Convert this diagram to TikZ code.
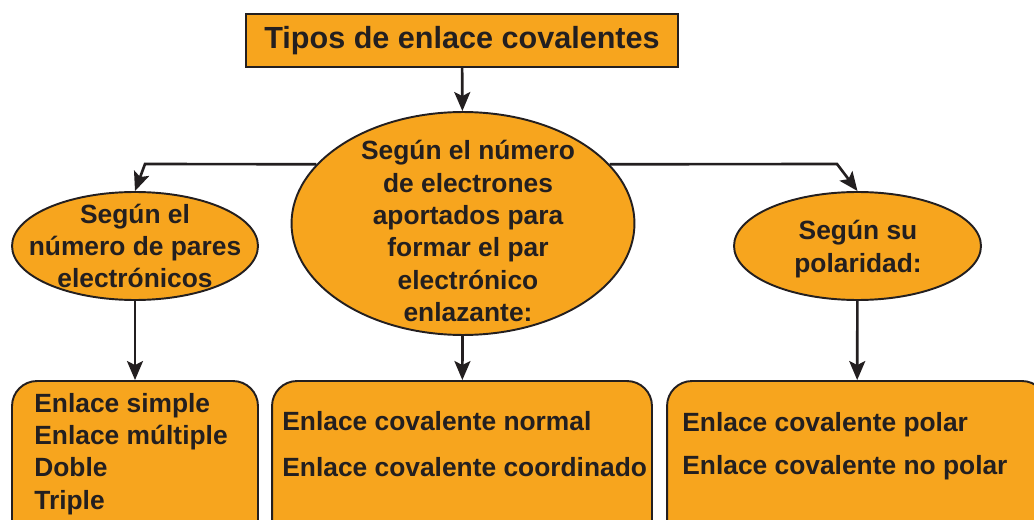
\documentclass[tikz,border=0pt]{standalone}
\usepackage{fontspec}
\setmainfont{Liberation Sans}
\usetikzlibrary{shapes.geometric, arrows.meta}
\definecolor{myorange}{HTML}{F7A51E}
\definecolor{mydark}{HTML}{231F20}
\tikzset{
	boldtext/.style={font=\fontsize{15}{18.4}\selectfont\bfseries, text=mydark, inner sep=0pt}
}
\tikzset{
	orangebox/.style={draw=mydark, fill=myorange, line width=1.1pt, inner sep=0pt}
}
\tikzset{
	blob/.style={orangebox, ellipse}
}
\tikzset{
	arr/.style={-{Stealth[length=3.8mm,width=3.2mm,inset=0.8mm]}, draw=mydark, line width=1.5pt}
}

\begin{document}
\begin{tikzpicture}[x=0.02cm, y=-0.02cm]
      \clip (0,0) rectangle (1034,520);

      % title box
      \node[orangebox, minimum width=8.64cm, minimum height=1.06cm,
            font=\fontsize{17.4}{20}\selectfont\bfseries, text=mydark] (tipos) at (462,40.5) {Tipos de enlace covalentes};

      % the three criteria (ellipses)
      \node[blob, minimum width=4.92cm, minimum height=2.16cm] (pares) at (135,246) {};
      \node[blob, minimum width=6.86cm, minimum height=4.46cm] (aporte) at (463,223.5) {};
      \node[blob, minimum width=4.94cm, minimum height=2.16cm] (polaridad) at (857.5,246) {};

      % texts inside the ellipses
      \node[boldtext, align=center] (tpares) at (135,246) {Según el\\número de pares\\electrónicos};
      \node[boldtext, align=center] (taporte) at (468,231) {Según el número\\de electrones\\aportados para\\formar el par\\electrónico\\enlazante:};
      \node[boldtext, align=center] (tpolaridad) at (858,249) {Según su\\polaridad:};

      % bottom boxes, cut by the lower edge
      \node[orangebox, rounded corners=0.5cm, minimum width=4.92cm, minimum height=3.28cm] (simple) at (135,463) {};
      \node[orangebox, rounded corners=0.5cm, minimum width=7.6cm, minimum height=3.28cm] (normal) at (462,463) {};
      \node[orangebox, rounded corners=0.5cm, minimum width=7.6cm, minimum height=3.28cm] (polar) at (857,463) {};

      \node[boldtext, align=left, anchor=west] (tsimple) at (34,454) {Enlace simple\\Enlace múltiple\\Doble\\Triple};
      \node[boldtext, align=left, anchor=west, font=\fontsize{15}{26}\selectfont\bfseries] (tnormal) at (282,444) {Enlace covalente normal\\Enlace covalente coordinado};
      \node[boldtext, align=left, anchor=west, font=\fontsize{15}{24.4}\selectfont\bfseries] (tpolar) at (682,446) {Enlace covalente polar\\Enlace covalente no polar};

      % connectors
      \coordinate (lcorner) at (145,164);
      \coordinate (rcorner) at (837,164);
      \draw[arr] (tipos) -- (aporte);
      \draw[arr] (aporte.158) -- (lcorner) -- (pares.north);
      \draw[arr] (aporte.22) -- (rcorner) -- (polaridad.north);
      \foreach \a/\b in {pares/simple, aporte/normal, polaridad/polar} {
        \draw[arr] (\a) -- (\b);
      }
\end{tikzpicture}
\end{document}
